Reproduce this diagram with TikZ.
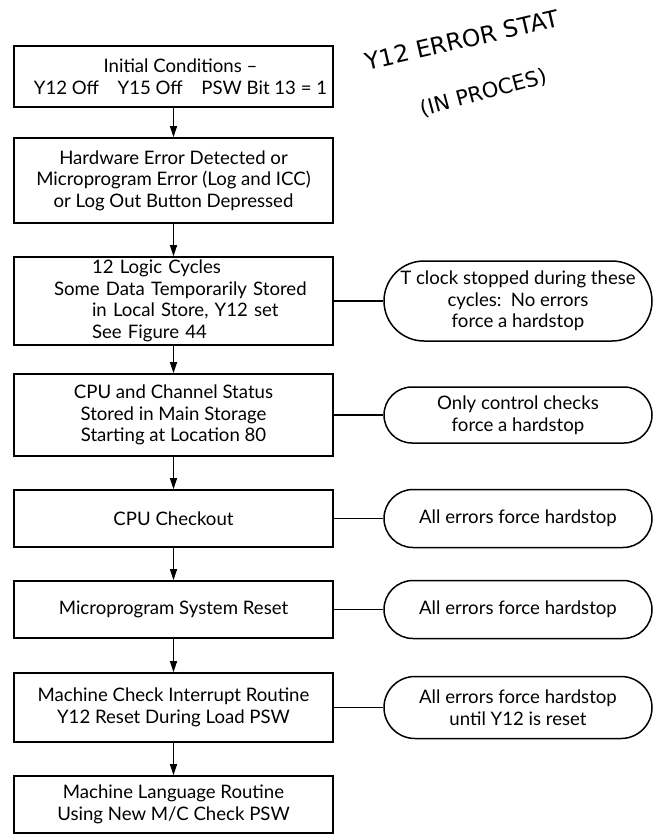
\documentclass[tikz,border=0pt]{standalone}
\usepackage{fontspec}
\setmainfont{Lato}
\newfontfamily\handfont{DejaVu Sans}
\usetikzlibrary{arrows.meta,shapes.misc}
\begin{document}
\begin{tikzpicture}[x=1pt,y=-1pt,
  font=\fontsize{18.6}{21.5}\selectfont,
  stepbox/.style={draw,line width=1.6pt,rectangle,minimum width=319pt,align=center,inner sep=0pt},
  notebox/.style={draw,line width=1.5pt,rounded rectangle,minimum width=268pt,align=center,inner sep=0pt},
  flow/.style={line width=1.3pt,-{Triangle[length=11pt,width=7pt]}},
  link/.style={line width=1.3pt}]
\useasboundingbox (0,0) rectangle (661,836);
\fill[white] (0,0) rectangle (661,836);
% main boxes
\node[stepbox,minimum height=61pt] (b1) at (173.5,76.5) {\hspace*{14pt}Initial Conditions --\\\hspace*{14pt}Y12 Off\quad Y15 Off\quad PSW Bit 13 = 1};
\node[stepbox,minimum height=85pt] (b2) at (173.5,180.5) {Hardware Error Detected or\\Microprogram Error (Log and ICC)\\or Log Out Button Depressed};
\node[stepbox,minimum height=88pt,text width=319pt,align=left] (b3) at (173.5,301) {\hspace*{78pt}12 Logic Cycles\\\hspace*{40pt}Some Data Temporarily Stored\\\hspace*{78pt}in Local Store, Y12 set\\\hspace*{78pt}See Figure 44};
\node[stepbox,minimum height=82pt] (b4) at (173.5,415) {CPU and Channel Status\\Stored in Main Storage\\Starting at Location 80};
\node[stepbox,minimum height=57pt] (b5) at (173.5,518.5) {CPU Checkout};
\node[stepbox,minimum height=57pt] (b6) at (173.5,609.5) {Microprogram System Reset};
\node[stepbox,minimum height=69pt] (b7) at (173.5,707.5) {Machine Check Interrupt Routine\\Y12 Reset During Load PSW};
\node[stepbox,minimum height=57pt] (b8) at (173.5,804.5) {Machine Language Routine\\Using New M/C Check PSW};
% side notes
\node[notebox,minimum height=80pt] (o1) at (518,301) {T clock stopped during these\\cycles:\enspace No errors\\force a hardstop};
\node[notebox,minimum height=56pt] (o2) at (518,415) {Only control checks\\force a hardstop};
\node[notebox,minimum height=58pt] (o3) at (518,518.5) {All errors force hardstop};
\node[notebox,minimum height=58pt] (o4) at (518,609.5) {All errors force hardstop};
\node[notebox,minimum height=62pt] (o5) at (518,707.5) {All errors force hardstop\\until Y12 is reset};
% handwritten note
\node[font=\handfont\fontsize{23.5}{23.5}\selectfont,rotate=13,inner sep=0pt] (h1) at (462,40) {Y12 ERROR STAT};
\node[font=\handfont\fontsize{21}{21}\selectfont,rotate=15,inner sep=0pt] (h2) at (484,93) {(IN PROCES)};
% flow arrows
\draw[flow] (b1) -- (b2);
\draw[flow] (b2) -- (b3);
\draw[flow] (b3) -- (b4);
\draw[flow] (b4) -- (b5);
\draw[flow] (b5) -- (b6);
\draw[flow] (b6) -- (b7);
\draw[flow] (b7) -- (b8);
% links
\draw[link] (b3) -- (o1);
\draw[link] (b4) -- (o2);
\draw[link] (b5) -- (o3);
\draw[link] (b6) -- (o4);
\draw[link] (b7) -- (o5);
\end{tikzpicture}
\end{document}
